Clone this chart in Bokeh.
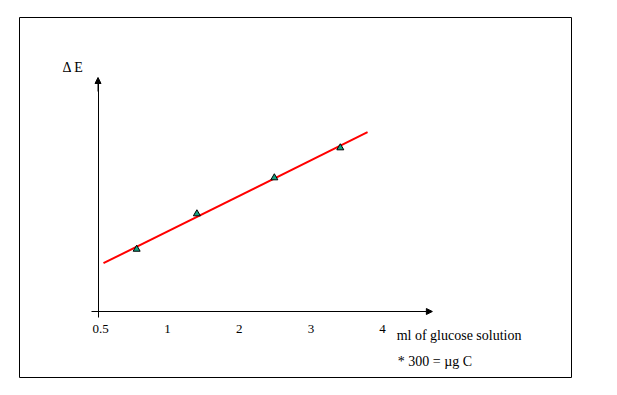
from bokeh.plotting import figure
from bokeh.models import (Range1d, LinearAxis, FixedTicker, CustomJSTickFormatter,
                          Arrow, NormalHead, Label)
from bokeh.embed import file_html
from bokeh.resources import INLINE

# ---- data ----
x_points = [0.57, 1.41, 2.49, 3.41]          # ml of glucose solution
y_points = [0.623, 0.977, 1.337, 1.637]      # delta E (arbitrary units)
x_line = [0.107, 3.79]                       # regression line ends
y_line = [0.483, 1.793]
tick_values = [0.066, 1, 2, 3, 4.0]
tick_labels = ["0.5", "1", "2", "3", "4"]
x_axis_label = "ml of glucose solution"
note_label = "* 300 = \u00b5g C"
y_axis_label = "\u0394 E"

FONT = "Liberation Serif"

p = figure(width=617, height=395, output_backend="svg", toolbar_location=None,
           x_range=Range1d(-1.0642, 6.6346), y_range=Range1d(-0.66, 2.94),
           x_axis_type=None, y_axis_type=None,
           min_border_left=19, min_border_right=46, min_border_top=17, min_border_bottom=18)
p.grid.visible = False
p.outline_line_color = "black"
p.outline_line_width = 1
p.background_fill_color = "white"
p.border_fill_color = "white"

# x axis, placed at y = 0
xa = LinearAxis(fixed_location=0, bounds=(-0.06, 4.6),
                ticker=FixedTicker(ticks=tick_values),
                formatter=CustomJSTickFormatter(code=
                    "const labs = %s; const ts = %s; let best = 0;"
                    "for (let i = 0; i < ts.length; i++) { if (Math.abs(ts[i]-tick) < Math.abs(ts[best]-tick)) best = i; }"
                    "return labs[best];" % (tick_labels, tick_values)))
xa.axis_line_color = "black"
xa.axis_line_width = 1
xa.major_tick_line_color = None
xa.minor_tick_line_color = None
xa.major_tick_out = 0
xa.major_tick_in = 0
xa.major_label_standoff = 13
xa.major_label_text_font = FONT
xa.major_label_text_font_size = "13px"
xa.major_label_text_color = "black"
p.add_layout(xa, "below")

# y axis, placed at x = origin
ya = LinearAxis(fixed_location=0.031, bounds=(-0.06, 2.30),
                ticker=FixedTicker(ticks=[]))
ya.axis_line_color = "black"
ya.axis_line_width = 1
ya.major_tick_line_color = None
ya.minor_tick_line_color = None
ya.major_label_text_font_size = "0px"
p.add_layout(ya, "left")

# arrow heads
p.add_layout(Arrow(end=NormalHead(size=6, fill_color="black", line_color="black", line_width=1),
                   x_start=4.5, y_start=0, x_end=4.694, y_end=0, line_color="black", line_width=1))
p.add_layout(Arrow(end=NormalHead(size=6, fill_color="black", line_color="black", line_width=1),
                   x_start=0.031, y_start=2.2, x_end=0.031, y_end=2.34, line_color="black", line_width=1))

# regression line and points
p.line(x_line, y_line, line_color="#ff0000", line_width=2)
p.scatter(x_points, y_points, marker="triangle", size=7, fill_color="#14a383",
          line_color="black", line_width=1)

# texts
p.add_layout(Label(x=-0.464, y=2.44, text=y_axis_label, text_font=FONT, text_font_size="14px",
                   text_baseline="middle", text_color="black"))
p.add_layout(Label(x=4.196, y=-0.24, text=x_axis_label, text_font=FONT, text_font_size="14px",
                   text_baseline="middle", text_color="black"))
p.add_layout(Label(x=4.213, y=-0.50, text=note_label, text_font=FONT, text_font_size="14px",
                   text_baseline="middle", text_color="black"))

open("out.html", "w").write(file_html(p, INLINE))
